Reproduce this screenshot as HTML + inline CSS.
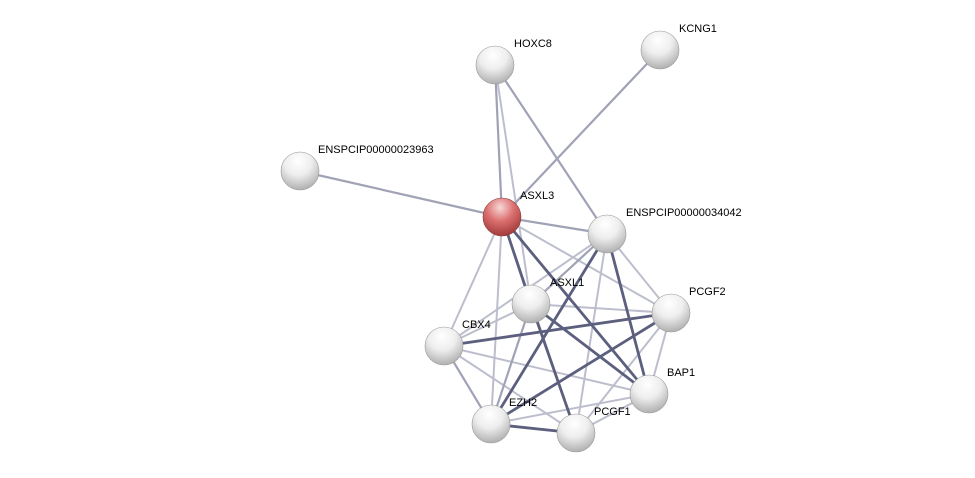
<!DOCTYPE html>
<html><head><meta charset="utf-8"><style>
html,body{margin:0;padding:0;background:#fff;width:975px;height:478px;overflow:hidden}
text{font-family:"Liberation Sans",sans-serif;font-size:11px;fill:#000}
</style></head><body>
<svg width="975" height="478" viewBox="0 0 975 478" xmlns="http://www.w3.org/2000/svg">
<defs>
<radialGradient id="g" cx="0.45" cy="0.25" r="0.8">
<stop offset="0" stop-color="#ffffff"/><stop offset="0.45" stop-color="#eeeeee"/><stop offset="1" stop-color="#a8a8a8"/>
</radialGradient>
<radialGradient id="r" cx="0.45" cy="0.25" r="0.8">
<stop offset="0" stop-color="#f8d8d8"/><stop offset="0.45" stop-color="#dc7070"/><stop offset="1" stop-color="#9a3434"/>
</radialGradient>
</defs>
<g stroke-linecap="round">
<g stroke="#bcbecd" stroke-width="2">
<line x1="495" y1="65" x2="531" y2="304"/>
<line x1="502" y1="217" x2="671" y2="313"/>
<line x1="502" y1="217" x2="444" y2="346"/>
<line x1="502" y1="217" x2="491" y2="424"/>
<line x1="502" y1="217" x2="576" y2="433"/>
<line x1="607" y1="234" x2="444" y2="346"/>
<line x1="607" y1="234" x2="671" y2="313"/>
<line x1="607" y1="234" x2="576" y2="433"/>
<line x1="531" y1="304" x2="671" y2="313"/>
<line x1="444" y1="346" x2="649" y2="394"/>
<line x1="444" y1="346" x2="576" y2="433"/>
<line x1="671" y1="313" x2="576" y2="433"/>
<line x1="671" y1="313" x2="649" y2="394"/>
<line x1="649" y1="394" x2="491" y2="424"/>
<line x1="649" y1="394" x2="576" y2="433"/>
<line x1="531" y1="304" x2="444" y2="346"/>
</g>
<g stroke="#a0a2b6" stroke-width="2.2">
<line x1="495" y1="65" x2="502" y2="217"/>
<line x1="495" y1="65" x2="607" y2="234"/>
<line x1="660" y1="50" x2="502" y2="217"/>
<line x1="300" y1="171" x2="502" y2="217"/>
<line x1="502" y1="217" x2="607" y2="234"/>
<line x1="607" y1="234" x2="531" y2="304"/>
<line x1="531" y1="304" x2="491" y2="424"/>
<line x1="444" y1="346" x2="491" y2="424"/>
</g>
<g stroke="#5c607e" stroke-width="2.8">
<line x1="502" y1="217" x2="531" y2="304"/>
<line x1="502" y1="217" x2="649" y2="394"/>
<line x1="607" y1="234" x2="649" y2="394"/>
<line x1="607" y1="234" x2="491" y2="424"/>
<line x1="531" y1="304" x2="649" y2="394"/>
<line x1="531" y1="304" x2="576" y2="433"/>
<line x1="671" y1="313" x2="444" y2="346"/>
<line x1="671" y1="313" x2="491" y2="424"/>
<line x1="491" y1="424" x2="576" y2="433"/>
</g>
</g>
<g stroke="#999" stroke-width="0.6">
<circle cx="495" cy="65" r="19" fill="url(#g)"/>
<circle cx="660" cy="50" r="19" fill="url(#g)"/>
<circle cx="300" cy="171" r="19" fill="url(#g)"/>
<circle cx="607" cy="234" r="19" fill="url(#g)"/>
<circle cx="531" cy="304" r="19" fill="url(#g)"/>
<circle cx="671" cy="313" r="19" fill="url(#g)"/>
<circle cx="444" cy="346" r="19" fill="url(#g)"/>
<circle cx="649" cy="394" r="19" fill="url(#g)"/>
<circle cx="491" cy="424" r="19" fill="url(#g)"/>
<circle cx="576" cy="433" r="19" fill="url(#g)"/>
<circle cx="502" cy="217" r="19" fill="url(#r)" stroke="#8a3a3a"/>
</g>
<text x="514" y="47">HOXC8</text>
<text x="679" y="32">KCNG1</text>
<text x="318" y="153">ENSPCIP00000023963</text>
<text x="520" y="199">ASXL3</text>
<text x="626" y="216">ENSPCIP00000034042</text>
<text x="550" y="286">ASXL1</text>
<text x="689" y="295">PCGF2</text>
<text x="462" y="328">CBX4</text>
<text x="667" y="376">BAP1</text>
<text x="509" y="406">EZH2</text>
<text x="594" y="415">PCGF1</text>
</svg>
</body></html>
